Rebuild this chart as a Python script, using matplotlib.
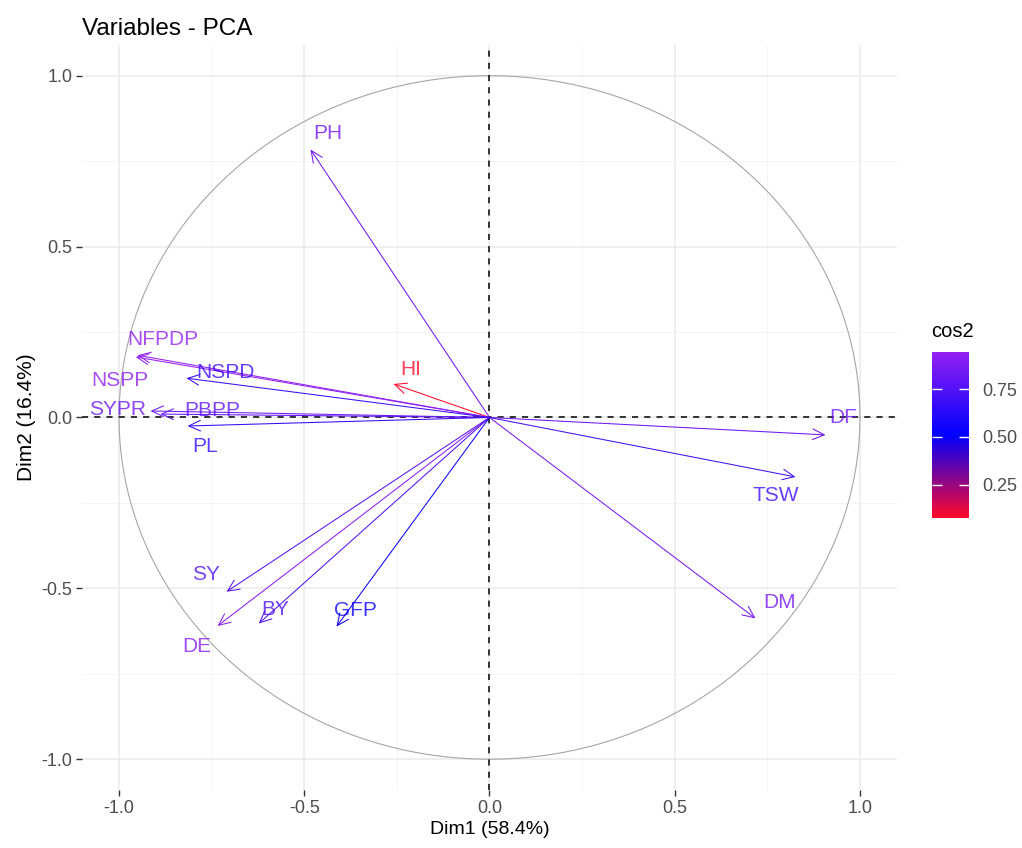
import numpy as np
import matplotlib
matplotlib.use('Agg')
import matplotlib.pyplot as plt
from matplotlib.colors import LinearSegmentedColormap, Normalize
from matplotlib.patches import FancyArrowPatch

# variable coordinates (arrow tips)
names = ['PH', 'HI', 'NFPDP', 'NSPP', 'NSPD', 'SYPR', 'PBPP', 'PL',
         'DF', 'TSW', 'DM', 'SY', 'DE', 'BY', 'GFP']
dim1 = [-0.483, -0.259, -0.955, -0.950, -0.818, -0.915, -0.888, -0.815,
        0.907, 0.826, 0.718, -0.710, -0.734, -0.623, -0.413]
dim2 = [0.784, 0.098, 0.177, 0.182, 0.115, 0.019, 0.010, -0.025,
        -0.051, -0.174, -0.588, -0.510, -0.610, -0.603, -0.612]
# label positions (centres)
lab_x = [-0.437, -0.213, -0.883, -0.999, -0.713, -1.004, -0.748, -0.767,
         0.955, 0.772, 0.783, -0.764, -0.791, -0.578, -0.362]
lab_y = [0.831, 0.139, 0.229, 0.109, 0.133, 0.022, 0.019, -0.086,
         0.0, -0.229, -0.542, -0.460, -0.670, -0.562, -0.565]

cb_ticks = [0.25, 0.50, 0.75]

plt.rcParams['font.family'] = ['Liberation Sans', 'DejaVu Sans']

x = np.array(dim1)
y = np.array(dim2)
cos2 = x**2 + y**2
vmin, vmax = cos2.min(), cos2.max()
cmap = LinearSegmentedColormap.from_list(
    'rbp', [(0, '#FF0A2A'), (0.5, '#0000FF'), (1, '#9420F0')])
norm = Normalize(vmin, vmax)

fig = plt.figure(figsize=(10.22, 8.48), dpi=100)
ax = fig.add_axes([0.0802, 0.0684, 0.7975, 0.8786])
ax.set_xlim(-1.1, 1.1)
ax.set_ylim(-1.09, 1.09)

# grid
for v in [-1, -0.5, 0, 0.5, 1]:
    ax.axvline(v, color='#EBEBEB', lw=1.1, zorder=0)
    ax.axhline(v, color='#EBEBEB', lw=1.1, zorder=0)
for v in [-0.75, -0.25, 0.25, 0.75]:
    ax.axvline(v, color='#F2F2F2', lw=0.6, zorder=0)
    ax.axhline(v, color='#F2F2F2', lw=0.6, zorder=0)

t = np.linspace(0, 2 * np.pi, 400)
ax.plot(np.cos(t), np.sin(t), color='#A6A6A6', lw=0.8, zorder=1)
ax.axhline(0, color='black', lw=1.1, ls=(0, (4, 4)), zorder=2)
ax.axvline(0, color='black', lw=1.1, ls=(0, (4, 4)), zorder=2)

for i in range(len(names)):
    c = cmap(norm(cos2[i]))
    arr = FancyArrowPatch((0, 0), (x[i], y[i]),
                          arrowstyle='->,head_length=0.7,head_width=0.32',
                          mutation_scale=12, color=c, lw=0.75, zorder=3,
                          shrinkA=0, shrinkB=0)
    ax.add_patch(arr)
    ax.text(lab_x[i], lab_y[i], names[i], color=c, alpha=0.8, fontsize=15,
            ha='center', va='center', zorder=4)

for s in ax.spines.values():
    s.set_visible(False)
ax.set_xticks([-1.0, -0.5, 0.0, 0.5, 1.0])
ax.set_yticks([-1.0, -0.5, 0.0, 0.5, 1.0])
ax.set_xticklabels(['-1.0', '-0.5', '0.0', '0.5', '1.0'])
ax.set_yticklabels(['-1.0', '-0.5', '0.0', '0.5', '1.0'])
ax.tick_params(length=4, width=1, color='#333333', labelcolor='#4D4D4D',
               labelsize=13, pad=3)
ax.set_xlabel('Dim1 (58.4%)', fontsize=14, labelpad=3)
ax.set_ylabel('Dim2 (16.4%)', fontsize=15, labelpad=4)
fig.text(0.0802, 0.966, 'Variables - PCA', fontsize=17.5, ha='left', va='center')

# colour bar
cax = fig.add_axes([0.912, 0.389, 0.036, 0.196])
sm = matplotlib.cm.ScalarMappable(norm=norm, cmap=cmap)
cb = fig.colorbar(sm, cax=cax, ticks=cb_ticks)
cb.outline.set_visible(False)
cb.ax.set_yticklabels(['0.25', '0.50', '0.75'])
cb.ax.tick_params(direction='in', left=True, right=True, color='white',
                  length=7, width=1, labelsize=13, labelcolor='#4D4D4D', pad=10)
fig.text(0.911, 0.598, 'cos2', fontsize=14.5, ha='left', va='bottom')

fig.savefig('out.png', dpi=100)
